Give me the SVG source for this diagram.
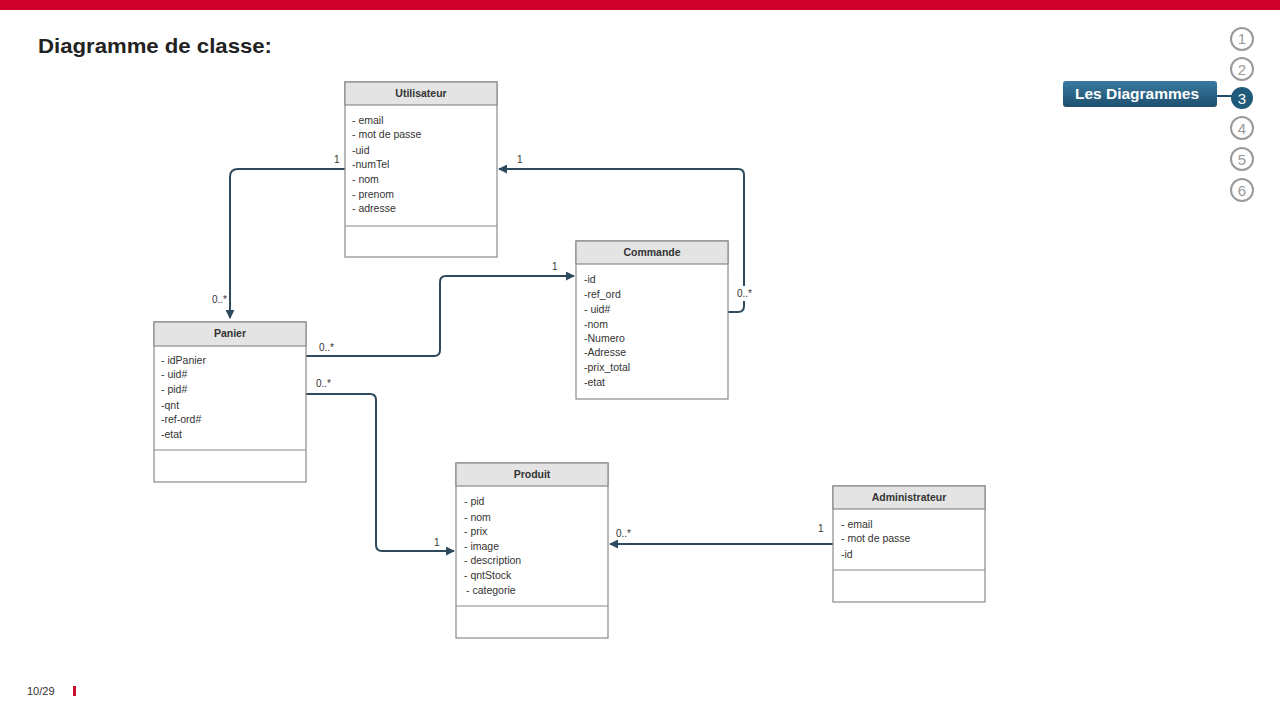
<svg xmlns="http://www.w3.org/2000/svg" width="1280" height="720" viewBox="0 0 1280 720">
<style>
.box{fill:#fff;stroke:#8a8a8a;stroke-width:1.2}
.hdr{fill:#e4e4e4;stroke:#8a8a8a;stroke-width:1.2}
.div{stroke:#8a8a8a;stroke-width:1.2}
.ttl{font-family:"Liberation Sans",Arial,sans-serif;font-size:10.5px;font-weight:bold;fill:#333;text-anchor:middle}
.att{font-family:"Liberation Sans",Arial,sans-serif;font-size:10.5px;fill:#333}
.con{fill:none;stroke:#2e4a5c;stroke-width:2}
.lbl{font-family:"Liberation Sans",Arial,sans-serif;font-size:10px;fill:#333}
.nav{fill:#fff;stroke:#9a9a9a;stroke-width:2}
.navt{font-family:"Liberation Sans",Arial,sans-serif;font-size:15px;fill:#9a9a9a;text-anchor:middle}
</style>
<defs>
<marker id="arrw" viewBox="0 0 10 10" refX="9" refY="5" markerWidth="9" markerHeight="9" orient="auto" markerUnits="userSpaceOnUse">
<path d="M0,0 L10,5 L0,10 z" fill="#2e4a5c"/>
</marker>
<linearGradient id="g" x1="0" y1="0" x2="0" y2="1">
<stop offset="0" stop-color="#3a7aa0"/>
<stop offset="1" stop-color="#1d4f6e"/>
</linearGradient>
</defs>
<rect x="0" y="0" width="1280" height="10" fill="#d0022b"/>
<text x="38" y="53" font-family="'Liberation Sans',Arial,sans-serif" font-size="20.5" font-weight="bold" fill="#222" textLength="234" lengthAdjust="spacingAndGlyphs">Diagramme de classe:</text>

<g id="connectors">
<path class="con" d="M345,169 H238 Q230,169 230,177 V318" marker-end="url(#arrw)"/>
<path class="con" d="M306,356 H434 Q440,356 440,350 V282 Q440,276 446,276 H574" marker-end="url(#arrw)"/>
<path class="con" d="M728,312 H738 Q744,312 744,306 V175 Q744,169 738,169 H499" marker-end="url(#arrw)"/>
<path class="con" d="M306,394 H370 Q376,394 376,400 V545 Q376,551 382,551 H454" marker-end="url(#arrw)"/>
<path class="con" d="M833,544 H610" marker-end="url(#arrw)"/>
<rect x="736" y="286" width="16" height="15" fill="#fff"/>
<text class="lbl" x="334" y="163">1</text>
<text class="lbl" x="212" y="303">0..*</text>
<text class="lbl" x="319" y="351">0..*</text>
<text class="lbl" x="552" y="270">1</text>
<text class="lbl" x="737" y="297">0..*</text>
<text class="lbl" x="517" y="163">1</text>
<text class="lbl" x="316" y="387">0..*</text>
<text class="lbl" x="434" y="546">1</text>
<text class="lbl" x="818" y="532">1</text>
<text class="lbl" x="616" y="537">0..*</text>
</g>

<g id="utilisateur">
<rect class="box" x="345" y="82" width="152" height="175"/>
<rect class="hdr" x="345" y="82" width="152" height="23"/>
<line class="div" x1="345" y1="226" x2="497" y2="226"/>
<text class="ttl" x="421" y="97">Utilisateur</text>
<text class="att" x="352" y="124">- email</text>
<text class="att" x="352" y="138">- mot de passe</text>
<text class="att" x="352" y="154">-uid</text>
<text class="att" x="352" y="168">-numTel</text>
<text class="att" x="352" y="183">- nom</text>
<text class="att" x="352" y="198">- prenom</text>
<text class="att" x="352" y="212">- adresse</text>
</g>

<g id="commande">
<rect class="box" x="576" y="241" width="152" height="158"/>
<rect class="hdr" x="576" y="241" width="152" height="23"/>
<text class="ttl" x="652" y="256">Commande</text>
<text class="att" x="584" y="283">-id</text>
<text class="att" x="584" y="298">-ref_ord</text>
<text class="att" x="584" y="313">- uid#</text>
<text class="att" x="584" y="328">-nom</text>
<text class="att" x="584" y="342">-Numero</text>
<text class="att" x="584" y="356">-Adresse</text>
<text class="att" x="584" y="371">-prix_total</text>
<text class="att" x="584" y="386">-etat</text>
</g>

<g id="panier">
<rect class="box" x="154" y="322" width="152" height="160"/>
<rect class="hdr" x="154" y="322" width="152" height="24"/>
<line class="div" x1="154" y1="450" x2="306" y2="450"/>
<text class="ttl" x="230" y="337">Panier</text>
<text class="att" x="161" y="364">- idPanier</text>
<text class="att" x="161" y="378">- uid#</text>
<text class="att" x="161" y="393">- pid#</text>
<text class="att" x="161" y="409">-qnt</text>
<text class="att" x="161" y="423">-ref-ord#</text>
<text class="att" x="161" y="438">-etat</text>
</g>

<g id="produit">
<rect class="box" x="456" y="463" width="152" height="175"/>
<rect class="hdr" x="456" y="463" width="152" height="23"/>
<line class="div" x1="456" y1="606" x2="608" y2="606"/>
<text class="ttl" x="532" y="478">Produit</text>
<text class="att" x="464" y="505">- pid</text>
<text class="att" x="464" y="521">- nom</text>
<text class="att" x="464" y="535">- prix</text>
<text class="att" x="464" y="550">- image</text>
<text class="att" x="464" y="564">- description</text>
<text class="att" x="464" y="579">- qntStock</text>
<text class="att" x="466" y="594">- categorie</text>
</g>

<g id="administrateur">
<rect class="box" x="833" y="486" width="152" height="116"/>
<rect class="hdr" x="833" y="486" width="152" height="23"/>
<line class="div" x1="833" y1="570" x2="985" y2="570"/>
<text class="ttl" x="909" y="501">Administrateur</text>
<text class="att" x="841" y="528">- email</text>
<text class="att" x="841" y="542">- mot de passe</text>
<text class="att" x="841" y="558">-id</text>
</g>

<g id="nav">
<circle class="nav" cx="1242" cy="39" r="11"/>
<text class="navt" x="1242" y="44" font-size="12">1</text>
<circle class="nav" cx="1242" cy="69" r="11"/>
<text class="navt" x="1242" y="75">2</text>
<line x1="1217" y1="96" x2="1233" y2="96" stroke="#1d4f6e" stroke-width="2"/>
<rect x="1063" y="81" width="154" height="26" rx="3" fill="url(#g)"/>
<text x="1137" y="99" font-family="'Liberation Sans',Arial,sans-serif" font-size="15.5" font-weight="bold" fill="#fff" text-anchor="middle">Les Diagrammes</text>
<circle cx="1242" cy="98" r="11" fill="#1f5a7a"/>
<text class="navt" x="1242" y="104" style="fill:#fff">3</text>
<circle class="nav" cx="1242" cy="128" r="11"/>
<text class="navt" x="1242" y="134">4</text>
<circle class="nav" cx="1242" cy="159" r="11"/>
<text class="navt" x="1242" y="165">5</text>
<circle class="nav" cx="1242" cy="190" r="11"/>
<text class="navt" x="1242" y="196">6</text>
</g>

<text x="27" y="695" font-family="'Liberation Sans',Arial,sans-serif" font-size="11" fill="#333">10/29</text>
<rect x="73" y="686" width="3" height="10" fill="#c8102e"/>
</svg>
